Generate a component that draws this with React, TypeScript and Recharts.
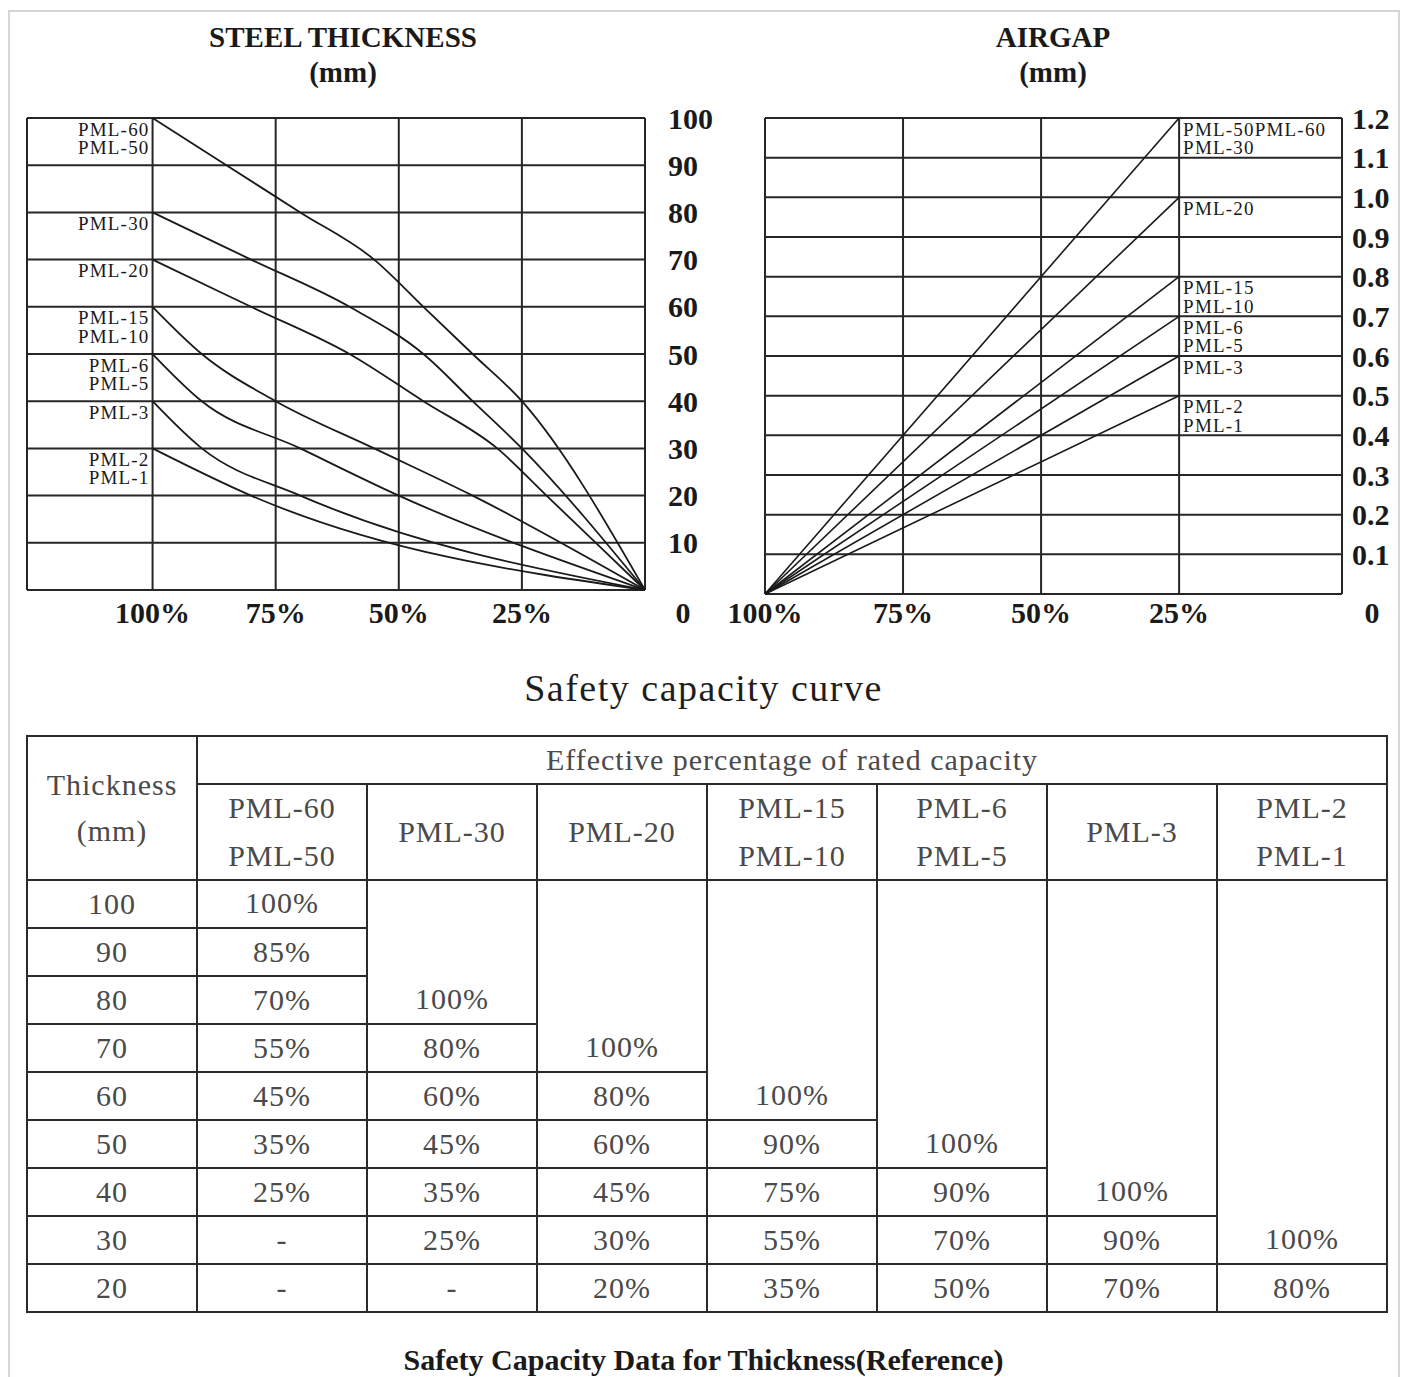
import React from "react";
import { LineChart, Line, XAxis, YAxis, CartesianGrid } from "recharts";

// thickness rows (mm) of the safety table
const thickness = [100, 90, 80, 70, 60, 50, 40, 30, 20];

const modelNames = [
  ["PML-60", "PML-50"],
  ["PML-30"],
  ["PML-20"],
  ["PML-15", "PML-10"],
  ["PML-6", "PML-5"],
  ["PML-3"],
  ["PML-2", "PML-1"],
];

// effective % of rated capacity, one array per model, aligned with thickness
const pml60 = [100, 85, 70, 55, 45, 35, 25, null, null];
const pml30 = [null, null, 100, 80, 60, 45, 35, 25, null];
const pml20 = [null, null, null, 100, 80, 60, 45, 30, 20];
const pml15 = [null, null, null, null, 100, 90, 75, 55, 35];
const pml6 = [null, null, null, null, null, 100, 90, 70, 50];
const pml3 = [null, null, null, null, null, null, 100, 90, 70];
const pml2 = [null, null, null, null, null, null, null, 100, 80];
const capacity = [pml60, pml30, pml20, pml15, pml6, pml3, pml2];

// every curve ends at zero capacity / zero thickness
const curveEnd = { pct: 0, mm: 0 };

// airgap chart: capacity falls to 25% at these gaps (mm)
const airgapLabels = [
  ["PML-50PML-60", "PML-30"],
  ["PML-20"],
  ["PML-15", "PML-10"],
  ["PML-6", "PML-5"],
  ["PML-3"],
  ["PML-2", "PML-1"],
];
const airgapAt25 = [1.2, 1.0, 0.8, 0.7, 0.6, 0.5];

const pctLabels = [100, 75, 50, 25];
const mmTicks = [0, 10, 20, 30, 40, 50, 60, 70, 80, 90, 100];
const gapTicks = [0, 0.1, 0.2, 0.3, 0.4, 0.5, 0.6, 0.7, 0.8, 0.9, 1.0, 1.1, 1.2];

const SERIF = "'Liberation Serif', 'Times New Roman', serif";
const INK = "#1a1a1a";
const tickFont = { fontFamily: SERIF, fontWeight: 700, fontSize: 30, fill: INK };
const labelFont = { fontFamily: SERIF, fontSize: 19, fill: INK, letterSpacing: 1.2 };

const steelSeries = capacity.map((col) => [
  ...thickness
    .map((t, j) => (col[j] == null ? null : { pct: col[j], mm: t }))
    .filter(Boolean),
  curveEnd,
]);

const gapSeries = airgapAt25.map((g) => [
  { pct: 100, gap: 0 },
  { pct: 25, gap: g },
]);

const makePctTick = (dy: number) => (p: any) => {
  const v = p.payload.value;
  if (!pctLabels.includes(v)) return <g />;
  return (
    <text x={p.x} y={p.y + dy} textAnchor="middle" dominantBaseline="central" style={tickFont}>
      {v}%
    </text>
  );
};
const SteelPctTick = makePctTick(22);
const GapPctTick = makePctTick(18);

const makeYTick = (gap: number, zeroDx: number, zeroDy: number, fmt: (v: number) => string) => (p: any) => {
  const v = p.payload.value;
  if (v === 0) {
    return (
      <text x={p.x + zeroDx} y={p.y + zeroDy} textAnchor="middle" dominantBaseline="central" style={tickFont}>
        0
      </text>
    );
  }
  return (
    <text x={p.x + gap} y={p.y} textAnchor="start" dominantBaseline="central" style={tickFont}>
      {fmt(v)}
    </text>
  );
};

const MmTick = makeYTick(23, 38, 22, (v) => String(v));
const GapTick = makeYTick(10, 30, 18, (v) => v.toFixed(1));

const nameDot = (names: string[], at: number, side: "left" | "right") => (p: any) => {
  const { cx, cy, index } = p;
  if (index !== at) return <g key={`d-${index}`} />;
  return (
    <g key={`d-${index}`}>
      {names.map((n, k) => (
        <text
          key={n}
          x={side === "left" ? cx - 3 : cx + 4}
          y={cy + 11 + k * 18.5}
          textAnchor={side === "left" ? "end" : "start"}
          dominantBaseline="central"
          style={labelFont}
        >
          {n}
        </text>
      ))}
    </g>
  );
};

const titleStyle: React.CSSProperties = {
  position: "absolute",
  fontFamily: SERIF,
  fontWeight: 700,
  fontSize: 29,
  color: INK,
  textAlign: "center",
  lineHeight: "35px",
};

const TABLE_X = 27;
const TABLE_Y = 736;
const COL_W = 170;
const ROW_H = 48;
const HEAD1 = 48;
const HEAD2 = 96;
const cellText = { fontFamily: SERIF, fontSize: 30, letterSpacing: 1, color: "#4a4a4a" };

function Cell({ x, y, w, h, children, bottom }: any) {
  return (
    <div
      style={{
        position: "absolute",
        left: x - 1,
        top: y - 1,
        width: w + 2,
        height: h + 2,
        border: "2px solid #2b2b2b",
        boxSizing: "border-box",
        display: "flex",
        flexDirection: "column",
        alignItems: "center",
        justifyContent: bottom ? "flex-end" : "center",
        ...cellText,
      }}
    >
      {children}
    </div>
  );
}

function CapacityTable() {
  const cells: React.ReactNode[] = [];
  const bodyY = TABLE_Y + HEAD1 + HEAD2;
  cells.push(
    <Cell key="th" x={TABLE_X} y={TABLE_Y} w={COL_W} h={HEAD1 + HEAD2}>
      <div style={{ lineHeight: "46px" }}>Thickness</div>
      <div style={{ lineHeight: "46px" }}>(mm)</div>
    </Cell>
  );
  cells.push(
    <Cell key="eff" x={TABLE_X + COL_W} y={TABLE_Y} w={COL_W * 7} h={HEAD1}>
      Effective percentage of rated capacity
    </Cell>
  );
  modelNames.forEach((names, c) => {
    cells.push(
      <Cell key={`h${c}`} x={TABLE_X + COL_W * (c + 1)} y={TABLE_Y + HEAD1} w={COL_W} h={HEAD2}>
        {names.map((n) => (
          <div key={n} style={{ lineHeight: "48px" }}>
            {n}
          </div>
        ))}
      </Cell>
    );
  });
  thickness.forEach((t, r) => {
    cells.push(
      <Cell key={`t${r}`} x={TABLE_X} y={bodyY + r * ROW_H} w={COL_W} h={ROW_H}>
        {t}
      </Cell>
    );
  });
  capacity.forEach((col, c) => {
    const x = TABLE_X + COL_W * (c + 1);
    const first = col.findIndex((v) => v != null);
    cells.push(
      <Cell key={`m${c}`} x={x} y={bodyY} w={COL_W} h={ROW_H * (first + 1)} bottom>
        <div style={{ lineHeight: `${ROW_H}px` }}>{col[first]}%</div>
      </Cell>
    );
    for (let r = first + 1; r < thickness.length; r++) {
      cells.push(
        <Cell key={`c${c}-${r}`} x={x} y={bodyY + r * ROW_H} w={COL_W} h={ROW_H}>
          {col[r] == null ? "-" : `${col[r]}%`}
        </Cell>
      );
    }
  });
  return <>{cells}</>;
}

export default function App() {
  return (
    <div
      style={{
        position: "absolute",
        left: 0,
        top: 0,
        width: 1407,
        height: 1377,
        background: "#fff",
        overflow: "hidden",
      }}
    >
      <div
        style={{
          position: "absolute",
          left: 8,
          top: 10,
          width: 1392,
          height: 1400,
          border: "2px solid #d6d6d6",
          boxSizing: "border-box",
        }}
      />

      <div style={{ ...titleStyle, left: 143, top: 20, width: 400 }}>
        STEEL THICKNESS
        <br />
        (mm)
      </div>
      <div style={{ ...titleStyle, left: 853, top: 20, width: 400 }}>
        AIRGAP
        <br />
        (mm)
      </div>

      <div style={{ position: "absolute", left: 0, top: 0 }}>
        <LineChart width={720} height={640} margin={{ top: 118, right: 0, bottom: 0, left: 27 }}>
          <CartesianGrid stroke="#262626" strokeWidth={2} />
          <XAxis
            type="number"
            dataKey="pct"
            domain={[0, 125.5]}
            ticks={[0, 25, 50, 75, 100, 125.5]}
            interval={0}
            reversed
            height={50}
            axisLine={false}
            tickLine={false}
            tickSize={0}
            tickMargin={0}
            tick={<SteelPctTick />}
          />
          <YAxis
            type="number"
            dataKey="mm"
            orientation="right"
            domain={[0, 100]}
            ticks={mmTicks}
            interval={0}
            width={75}
            axisLine={false}
            tickLine={false}
            tickSize={0}
            tickMargin={0}
            tick={<MmTick />}
          />
          {steelSeries.map((pts, i) => (
            <Line
              key={i}
              data={pts}
              dataKey="mm"
              type="monotone"
              stroke={INK}
              strokeWidth={1.8}
              dot={nameDot(modelNames[i], 0, "left")}
              activeDot={false}
              isAnimationActive={false}
            />
          ))}
        </LineChart>
      </div>

      <div style={{ position: "absolute", left: 720, top: 0 }}>
        <LineChart width={687} height={640} margin={{ top: 118, right: 0, bottom: 0, left: 45 }}>
          <CartesianGrid stroke="#262626" strokeWidth={2} />
          <XAxis
            type="number"
            dataKey="pct"
            domain={[-4.5, 100]}
            ticks={[-4.5, 25, 50, 75, 100]}
            interval={0}
            reversed
            height={46}
            axisLine={false}
            tickLine={false}
            tickSize={0}
            tickMargin={0}
            tick={<GapPctTick />}
          />
          <YAxis
            type="number"
            dataKey="gap"
            orientation="right"
            domain={[0, 1.2]}
            ticks={gapTicks}
            interval={0}
            width={65}
            axisLine={false}
            tickLine={false}
            tickSize={0}
            tickMargin={0}
            tick={<GapTick />}
          />
          {gapSeries.map((pts, i) => (
            <Line
              key={i}
              data={pts}
              dataKey="gap"
              type="linear"
              stroke={INK}
              strokeWidth={1.6}
              dot={nameDot(airgapLabels[i], 1, "right")}
              activeDot={false}
              isAnimationActive={false}
            />
          ))}
        </LineChart>
      </div>

      <div
        style={{
          position: "absolute",
          left: 0,
          top: 665,
          width: 1407,
          textAlign: "center",
          fontFamily: SERIF,
          fontSize: 38,
          letterSpacing: 1.5,
          color: "#1e1e1e",
          lineHeight: "46px",
        }}
      >
        Safety capacity curve
      </div>

      <CapacityTable />

      <div
        style={{
          position: "absolute",
          left: 0,
          top: 1342,
          width: 1407,
          textAlign: "center",
          fontFamily: SERIF,
          fontWeight: 700,
          fontSize: 30,
          color: INK,
          lineHeight: "36px",
        }}
      >
        Safety Capacity Data for Thickness(Reference)
      </div>
    </div>
  );
}
